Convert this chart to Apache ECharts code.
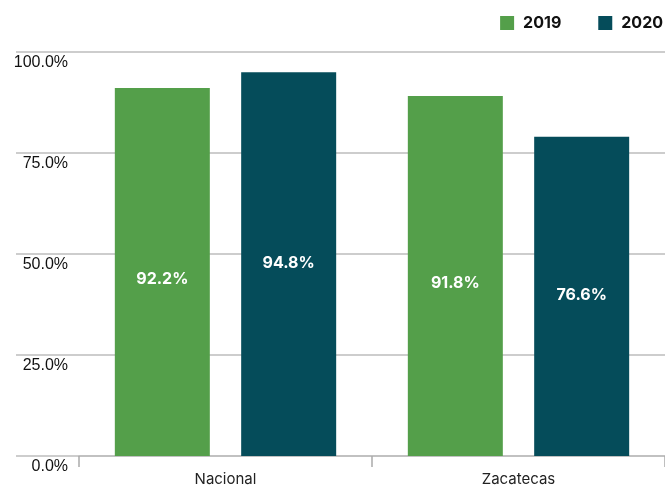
<!DOCTYPE html>
<html>
<head>
<meta charset="utf-8">
<script src="https://cdn.jsdelivr.net/npm/echarts@6/dist/echarts.min.js"></script>
<style>
  html, body { margin: 0; padding: 0; background: #fff; }
  #chart { width: 665px; height: 487px; }
</style>
</head>
<body>
<div id="chart"></div>
<script>
// data
var categories = ['Nacional', 'Zacatecas'];
var seriesNames = ['2019', '2020'];
var values2019 = [91.0, 89.0];
var values2020 = [94.9, 78.9];
var labels2019 = ['92.2%', '91.8%'];
var labels2020 = ['94.8%', '76.6%'];
var yTicks = [0, 25, 50, 75, 100];

var FONT = 'Inter, "Liberation Sans", Arial, sans-serif';
var AXIS_FONT = '"Liberation Sans", Arial, sans-serif';
var GREEN = '#549f4a';
var TEAL = '#054c5a';

function barSeries(name, vals, labels, color, labelDy) {
    return {
        name: name,
        type: 'bar',
        xAxisIndex: 1,
        yAxisIndex: 1,
        barWidth: 95,
        barGap: '33%',
        itemStyle: { color: color },
        label: {
            show: true,
            position: 'inside',
            offset: [0, labelDy],
            color: '#fff',
            fontFamily: FONT,
            fontWeight: 'bold',
            fontSize: 16,
            formatter: function (p) { return labels[p.dataIndex]; }
        },
        data: vals
    };
}

var option = {
    animation: false,
    backgroundColor: '#fff',
    legend: {
        right: 2,
        top: 15,
        padding: 0,
        itemWidth: 14,
        itemHeight: 14,
        itemGap: 37,
        icon: 'rect',
        textStyle: {
            fontFamily: FONT,
            fontWeight: 'bold',
            fontSize: 16,
            color: '#111',
            padding: [0, 0, 0, 4]
        },
        data: seriesNames
    },
    grid: [
        { left: 16, right: 0, top: 51.5, bottom: 31 },
        { left: 79, right: 0, top: 51.5, bottom: 31 }
    ],
    xAxis: [
        { type: 'value', gridIndex: 0, min: 0, max: 1, show: false },
        {
            type: 'category',
            gridIndex: 1,
            data: categories,
            axisLine: { show: true, lineStyle: { color: '#bdbdbd', width: 1.5 } },
            axisTick: { show: true, length: 11, lineStyle: { color: '#aaaaaa', width: 1.5 } },
            axisLabel: {
                fontFamily: FONT,
                fontSize: 15,
                color: '#222',
                margin: 16
            }
        }
    ],
    yAxis: [
        {
            type: 'value',
            gridIndex: 0,
            min: yTicks[0],
            max: yTicks[yTicks.length - 1],
            interval: 25,
            axisLine: { show: false },
            axisTick: { show: false },
            splitLine: { show: true, lineStyle: { color: '#bdbdbd', width: 1.5 } },
            axisLabel: {
                inside: true,
                align: 'right',
                verticalAlign: 'top',
                margin: 52,
                padding: [3, 0, 0, 0],
                fontFamily: AXIS_FONT,
                fontSize: 16,
                color: '#111',
                formatter: function (v) { return v.toFixed(1) + '%'; }
            }
        },
        {
            type: 'value',
            gridIndex: 1,
            min: yTicks[0],
            max: yTicks[yTicks.length - 1],
            interval: 25,
            show: false,
            splitLine: { show: false }
        }
    ],
    series: [
        barSeries(seriesNames[0], values2019, labels2019, GREEN, 7),
        barSeries(seriesNames[1], values2020, labels2020, TEAL, -1)
    ]
};

echarts.init(document.getElementById('chart')).setOption(option);
</script>
</body>
</html>
